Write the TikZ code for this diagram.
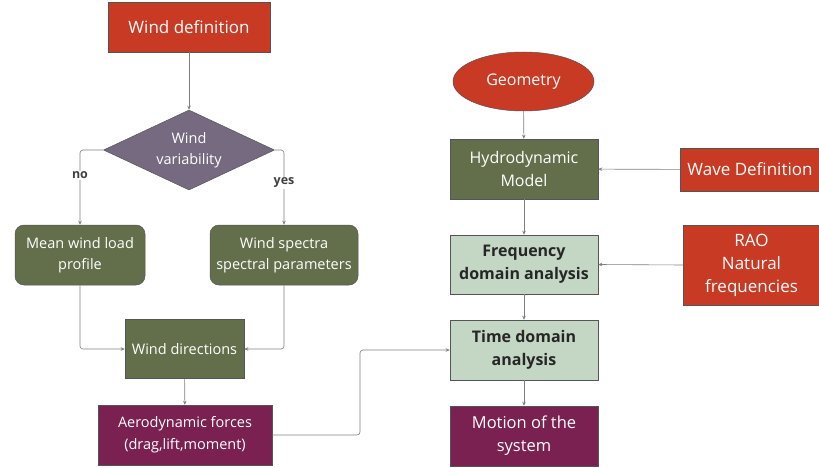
\documentclass[tikz,border=0pt]{standalone}
\usepackage{fontspec}
\setmainfont{Open Sans}
\usetikzlibrary{shapes.geometric,arrows.meta}
\definecolor{cred}{HTML}{C93A24}
\definecolor{cgreen}{HTML}{636F4A}
\definecolor{cdiam}{HTML}{756A80}
\definecolor{cpurp}{HTML}{7A2152}
\definecolor{clight}{HTML}{C3D7C4}
\definecolor{cline}{HTML}{7F7F7F}
\definecolor{cborder}{HTML}{555555}
\tikzset{
  box/.style={draw=cborder, line width=0.5pt, inner sep=0pt, align=center, text=white},
  redbox/.style={box, fill=cred},
  greenbox/.style={box, fill=cgreen},
  rgreenbox/.style={box, fill=cgreen, rounded corners=9pt},
  purpbox/.style={box, fill=cpurp},
  lightbox/.style={box, fill=clight, text=black!85, font=\fontsize{16}{23}\selectfont\bfseries},
  conn/.style={draw=cline, line width=0.6pt, -{Stealth[length=4pt,width=3.5pt]}},
  lbl/.style={fill=white, inner sep=1pt, text=black!75, font=\fontsize{12.5}{14}\selectfont\bfseries}
}
\begin{document}
\begin{tikzpicture}[x=1pt,y=-1pt]
\useasboundingbox (0,0) rectangle (819,468);
% left column
\node[redbox, minimum width=162pt, minimum height=50pt, font=\fontsize{17}{22}\selectfont] (wdef) at (189,27) {Wind definition};
\node[diamond, draw=cborder, line width=0.5pt, fill=cdiam, text=white, inner sep=0pt, aspect=2.14, minimum width=171pt, minimum height=80pt, align=center, font=\fontsize{14.5}{21}\selectfont] (var) at (189,150) {Wind\\variability};
\node[rgreenbox, minimum width=130pt, minimum height=60pt, font=\fontsize{14.5}{21}\selectfont] (mean) at (80,255) {Mean wind load\\profile};
\node[rgreenbox, minimum width=148pt, minimum height=60pt, font=\fontsize{14.5}{21}\selectfont] (spec) at (284,255) {Wind spectra\\spectral parameters};
\node[greenbox, minimum width=119pt, minimum height=59pt, font=\fontsize{14.5}{21}\selectfont] (dir) at (184.5,349) {Wind directions};
\node[purpbox, minimum width=174pt, minimum height=60pt, font=\fontsize{14.5}{22}\selectfont] (aero) at (185,435) {Aerodynamic forces\\(drag,lift,moment)};
% right column
\node[ellipse, draw=cborder, line width=0.5pt, fill=cred, text=white, inner sep=0pt, minimum width=141pt, minimum height=59pt, font=\fontsize{16}{20}\selectfont] (geo) at (523.5,81.5) {\raisebox{-1.5pt}{Geometry}};
\node[greenbox, minimum width=148pt, minimum height=60pt, font=\fontsize{16}{23}\selectfont] (hydro) at (524,169) {Hydrodynamic\\Model};
\node[redbox, minimum width=140pt, minimum height=43pt, font=\fontsize{17}{22}\selectfont] (wave) at (750,169.5) {Wave Definition};
\node[lightbox, minimum width=148pt, minimum height=59pt] (freq) at (524,264.5) {Frequency\\domain analysis};
\node[redbox, minimum width=137pt, minimum height=80pt, font=\fontsize{17}{23}\selectfont] (rao) at (751.5,265) {RAO\\Natural\\frequencies};
\node[lightbox, minimum width=148pt, minimum height=60pt] (time) at (524,350) {Time domain\\analysis};
\node[purpbox, minimum width=148pt, minimum height=60pt, font=\fontsize{16.5}{23}\selectfont] (motion) at (524,436) {Motion of the\\system};
% connectors
\draw[conn] (wdef) -- (var);
\draw[conn, rounded corners=3pt] (var.west) -| (mean.north) node[lbl, pos=0.67] {no};
\draw[conn, rounded corners=3pt] (var.east) -| (spec.north) node[lbl, pos=0.72] {yes};
\draw[conn, rounded corners=3pt] (mean.south) |- (dir.west);
\draw[conn, rounded corners=3pt] (spec.south) |- (dir.east);
\draw[conn] (dir) -- (aero);
\coordinate (mid) at (360,0);
\draw[conn, rounded corners=3pt] (aero.east) -- (aero.east -| mid) -- (time.west -| mid) -- (time.west);
\draw[conn] (geo) -- (hydro);
\draw[conn] (wave) -- (hydro);
\draw[conn] (hydro) -- (freq);
\draw[conn] (rao.west) -- (freq.east);
\draw[conn] (freq) -- (time);
\draw[conn] (time) -- (motion);
\end{tikzpicture}
\end{document}
